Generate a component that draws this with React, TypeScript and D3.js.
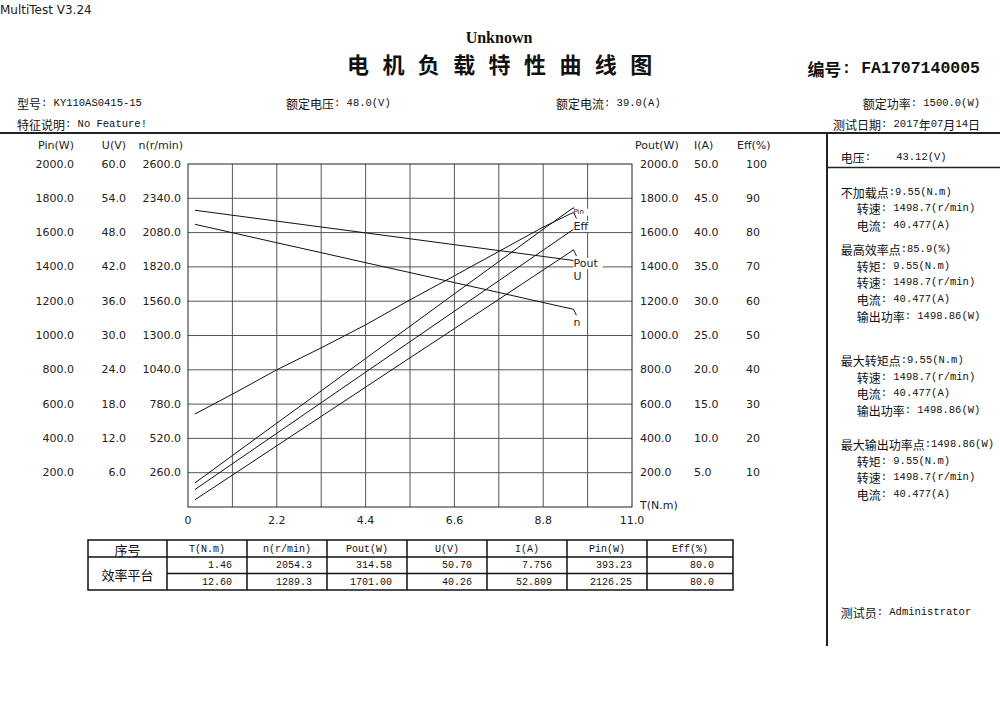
import React from "react";
import * as d3 from "d3";

// ---------- data ----------
const torque = [0.17, 1.1, 2.2, 3.3, 4.4, 5.5, 6.6, 7.7, 8.8, 9.55];
const voltage = [51.91, 51.04, 50.01, 48.98, 47.95, 46.92, 45.89, 44.86, 43.83, 43.12];
const speed = [2143, 2079, 2003, 1928, 1852, 1777, 1701, 1626, 1550, 1498.7];
const current = [2.54, 6.3, 10.75, 15.2, 19.65, 24.1, 28.54, 32.99, 37.44, 40.48];
const powerIn = [140, 300, 489, 677, 866, 1054, 1243, 1431, 1620, 1745];
const powerOut = [42, 186, 357, 528, 699, 870, 1040, 1211, 1382, 1499];
const efficiency = [27.1, 32.9, 40.0, 46.4, 53.1, 60.4, 67.4, 74.5, 81.6, 85.9];

const pinTicks = [200, 400, 600, 800, 1000, 1200, 1400, 1600, 1800, 2000];
const uTicks = [6, 12, 18, 24, 30, 36, 42, 48, 54, 60];
const nTicks = [260, 520, 780, 1040, 1300, 1560, 1820, 2080, 2340, 2600];
const poutTicks = [200, 400, 600, 800, 1000, 1200, 1400, 1600, 1800, 2000];
const iTicks = [5, 10, 15, 20, 25, 30, 35, 40, 45, 50];
const effTicks = [10, 20, 30, 40, 50, 60, 70, 80, 90, 100];
const tTicks = [0, 2.2, 4.4, 6.6, 8.8, 11.0];
const tTickLabels = ["0", "2.2", "4.4", "6.6", "8.8", "11.0"];

const titleChars = ["电", "机", "负", "载", "特", "性", "曲", "线", "图"];

const tableHeader = ["序号", "T(N.m)", "n(r/min)", "Pout(W)", "U(V)", "I(A)", "Pin(W)", "Eff(%)"];
const tableRowLabel = "效率平台";
const tableRows = [
  ["1.46", "2054.3", "314.58", "50.70", "7.756", "393.23", "80.0"],
  ["12.60", "1289.3", "1701.00", "40.26", "52.809", "2126.25", "80.0"],
];

const panelGroups = [
  ["不加载点:9.55(N.m)", "  转速: 1498.7(r/min)", "  电流: 40.477(A)"],
  ["最高效率点:85.9(%)", "  转矩: 9.55(N.m)", "  转速: 1498.7(r/min)", "  电流: 40.477(A)", "  输出功率: 1498.86(W)"],
  ["最大转矩点:9.55(N.m)", "  转速: 1498.7(r/min)", "  电流: 40.477(A)", "  输出功率: 1498.86(W)"],
  ["最大输出功率点:1498.86(W)", "  转矩: 9.55(N.m)", "  转速: 1498.7(r/min)", "  电流: 40.477(A)"],
];

// ---------- style ----------
const MONO = "'Liberation Mono', 'DejaVu Sans Mono', monospace";
const CJK = "'Noto Sans CJK SC', sans-serif";
const SANS = "'DejaVu Sans', Verdana, sans-serif";
const SERIF = "'Liberation Serif', serif";
const INK = "#111";

const CJK_RE = /[\u3000-\u303f\u4e00-\u9fff\uff00-\uffef]+|[^\u3000-\u303f\u4e00-\u9fff\uff00-\uffef]+/g;
const isCJK = (s: string) => /[\u3000-\u303f\u4e00-\u9fff\uff00-\uffef]/.test(s);

function Mixed({ x, y, text, anchor = "start", cjk = 12, mono = 10.5, weight = "normal" as any, fill = INK }: any) {
  const parts: string[] = text.match(CJK_RE) || [];
  return (
    <text x={x} y={y} textAnchor={anchor} dominantBaseline="central" fill={fill} fontWeight={weight}
      xmlSpace="preserve" style={{ whiteSpace: "pre" }}>
      {parts.map((p, i) =>
        isCJK(p) ? (
          <tspan key={i} fontFamily={CJK} fontSize={cjk}>{p}</tspan>
        ) : (
          <tspan key={i} fontFamily={MONO} fontSize={mono}>{p}</tspan>
        )
      )}
    </text>
  );
}

// ---------- layout ----------
const PL = 188, PR = 632, PT = 164, PB = 507;

export default function App() {
  const x = d3.scaleLinear().domain([0, 11]).range([PL, PR]);
  const yPin = d3.scaleLinear().domain([0, 2000]).range([PB, PT]);
  const yU = d3.scaleLinear().domain([0, 60]).range([PB, PT]);
  const yN = d3.scaleLinear().domain([0, 2600]).range([PB, PT]);
  const yPout = d3.scaleLinear().domain([0, 2000]).range([PB, PT]);
  const yI = d3.scaleLinear().domain([0, 50]).range([PB, PT]);
  const yEff = d3.scaleLinear().domain([0, 100]).range([PB, PT]);

  const series = [
    { name: "n", vals: speed, y: yN, label: true, dy: 13, fs: 11 },
    { name: "U", vals: voltage, y: yU, label: true, dy: 16, fs: 11 },
    { name: "Pout", vals: powerOut, y: yPout, label: true, dy: 13.5, fs: 11 },
    { name: "I", vals: current, y: yI, label: false, dy: 14, fs: 11 },
    { name: "Pin", vals: powerIn, y: yPin, label: true, dy: 4.5, fs: 7 },
    { name: "Eff", vals: efficiency, y: yEff, label: true, dy: 14, fs: 11 },
  ];

  const vGrid = d3.range(1, 10).map((i) => i * 1.1);

  const colEdges = [88, 167, 247, 327, 407, 487, 567, 647, 733];
  const rowEdges = [540, 557, 573.5, 590];

  return (
    <svg width={1000} height={707} style={{ position: "absolute", left: 0, top: 0, background: "#fff" }}>
      <rect x={0} y={0} width={1000} height={707} fill="#fff" />
      {/* top texts */}
      <text x={0} y={10} fontFamily={SANS} fontSize={12} fill="#222" dominantBaseline="central">MultiTest V3.24</text>
      <text x={499} y={37} textAnchor="middle" dominantBaseline="central" fontFamily={SERIF} fontSize={16} fontWeight="bold" fill={INK}>Unknown</text>
      {titleChars.map((c, i) => (
        <text key={i} x={358 + i * 35.4} y={63} textAnchor="middle" dominantBaseline="central" fontFamily={CJK} fontSize={22} fontWeight="bold" fill={INK}>{c}</text>
      ))}
      <Mixed x={980} y={68} anchor="end" text="编号: FA1707140005" cjk={17} mono={16.5} weight="bold" />

      <Mixed x={17} y={102.7} text="型号: KY110AS0415-15" />
      <Mixed x={286} y={102.7} text="额定电压: 48.0(V)" />
      <Mixed x={556} y={102.7} text="额定电流: 39.0(A)" />
      <Mixed x={980} y={102.7} anchor="end" text="额定功率: 1500.0(W)" />
      <Mixed x={17} y={124} text="特征说明: No Feature!" />
      <Mixed x={980} y={124} anchor="end" text="测试日期: 2017年07月14日" />

      <line x1={0} x2={1000} y1={133} y2={133} stroke="#222" strokeWidth={2} />
      <line x1={827} x2={827} y1={133} y2={646} stroke="#222" strokeWidth={2} />

      {/* axis titles */}
      <g fontFamily={SANS} fontSize={11} fill="#222">
        <text x={74} y={145} textAnchor="end" dominantBaseline="central">Pin(W)</text>
        <text x={126} y={145} textAnchor="end" dominantBaseline="central">U(V)</text>
        <text x={183} y={145} textAnchor="end" dominantBaseline="central">n(r/min)</text>
        <text x={635} y={145} dominantBaseline="central">Pout(W)</text>
        <text x={694} y={145} dominantBaseline="central">I(A)</text>
        <text x={737} y={145} dominantBaseline="central">Eff(%)</text>
        {pinTicks.map((v) => (
          <text key={"p" + v} x={74} y={yPin(v)} textAnchor="end" dominantBaseline="central">{v.toFixed(1)}</text>
        ))}
        {uTicks.map((v) => (
          <text key={"u" + v} x={126} y={yU(v)} textAnchor="end" dominantBaseline="central">{v.toFixed(1)}</text>
        ))}
        {nTicks.map((v) => (
          <text key={"n" + v} x={181} y={yN(v)} textAnchor="end" dominantBaseline="central">{v.toFixed(1)}</text>
        ))}
        {poutTicks.map((v) => (
          <text key={"po" + v} x={640} y={yPout(v)} dominantBaseline="central">{v.toFixed(1)}</text>
        ))}
        {iTicks.map((v) => (
          <text key={"i" + v} x={694} y={yI(v)} dominantBaseline="central">{v.toFixed(1)}</text>
        ))}
        {effTicks.map((v) => (
          <text key={"e" + v} x={746} y={yEff(v)} dominantBaseline="central">{String(v)}</text>
        ))}
        <text x={640} y={505} dominantBaseline="central">T(N.m)</text>
        {tTicks.map((v, i) => (
          <text key={"t" + i} x={x(v)} y={520} textAnchor="middle" dominantBaseline="central">{tTickLabels[i]}</text>
        ))}
      </g>

      {/* grid */}
      <g stroke="#555" strokeWidth={1}>
        {vGrid.map((v, i) => (
          <line key={"vg" + i} x1={x(v)} x2={x(v)} y1={PT} y2={PB} />
        ))}
        {pinTicks.slice(0, -1).map((v) => (
          <line key={"hg" + v} x1={PL} x2={PR} y1={yPin(v)} y2={yPin(v)} />
        ))}
      </g>
      <rect x={PL} y={PT} width={PR - PL} height={PB - PT} fill="none" stroke="#222" strokeWidth={1} />

      {/* curves */}
      {series.map((s) => {
        const line = d3.line<number>().x((_, i) => x(torque[i])).y((v) => s.y(v));
        return <path key={s.name} d={line(s.vals) || ""} fill="none" stroke="#111" strokeWidth={1} />;
      })}
      {series.filter((s) => s.label).map((s) => {
        const ex = x(torque[torque.length - 1]);
        const ey = s.y(s.vals[s.vals.length - 1]);
        const w = s.name.length * s.fs * 0.62 + 2;
        return (
          <g key={"lab" + s.name}>
            <line x1={ex} y1={ey} x2={ex + 3} y2={ey + 6} stroke="#111" strokeWidth={1} />
            <rect x={ex} y={ey + s.dy - s.fs / 2} width={w} height={s.fs} fill="#fff" />
            <text x={ex} y={ey + s.dy} dominantBaseline="central" fontFamily={SANS} fontSize={s.fs} fill="#222">{s.name}</text>
          </g>
        );
      })}

      {/* table */}
      <g stroke="#111" strokeWidth={1.5} fill="none">
        <rect x={colEdges[0]} y={rowEdges[0]} width={colEdges[8] - colEdges[0]} height={rowEdges[3] - rowEdges[0]} />
        <line x1={colEdges[0]} x2={colEdges[8]} y1={rowEdges[1]} y2={rowEdges[1]} />
        <line x1={colEdges[1]} x2={colEdges[8]} y1={rowEdges[2]} y2={rowEdges[2]} />
        {colEdges.slice(1, -1).map((c) => (
          <line key={"c" + c} x1={c} x2={c} y1={rowEdges[0]} y2={rowEdges[3]} />
        ))}
      </g>
      {tableHeader.map((h, i) => (
        <Mixed key={"th" + i} x={(colEdges[i] + colEdges[i + 1]) / 2} y={(rowEdges[0] + rowEdges[1]) / 2} anchor="middle" text={h} cjk={13} mono={10} />
      ))}
      <Mixed x={(colEdges[0] + colEdges[1]) / 2} y={(rowEdges[1] + rowEdges[3]) / 2} anchor="middle" text={tableRowLabel} cjk={13} />
      {tableRows.map((row, r) =>
        row.map((v, c) => (
          <Mixed key={"td" + r + c} x={colEdges[c + 2] - (c === 6 ? 19 : 15)} y={(rowEdges[r + 1] + rowEdges[r + 2]) / 2} anchor="end" text={v} mono={10} />
        ))
      )}

      {/* right panel */}
      <Mixed x={840.7} y={157} text="电压:    43.12(V)" />
      <line x1={827} x2={1000} y1={167.5} y2={167.5} stroke="#222" strokeWidth={1.5} />
      {panelGroups.map((g, gi) => {
        const starts = [191.7, 249, 360, 444];
        return g.map((t, li) => (
          <Mixed key={"pg" + gi + li} x={t.startsWith("  ") ? 856.7 : 840.7} y={starts[gi] + li * 16.7} text={t.trim()} />
        ));
      })}
      <Mixed x={840.7} y={612} text="测试员: Administrator" />
    </svg>
  );
}
